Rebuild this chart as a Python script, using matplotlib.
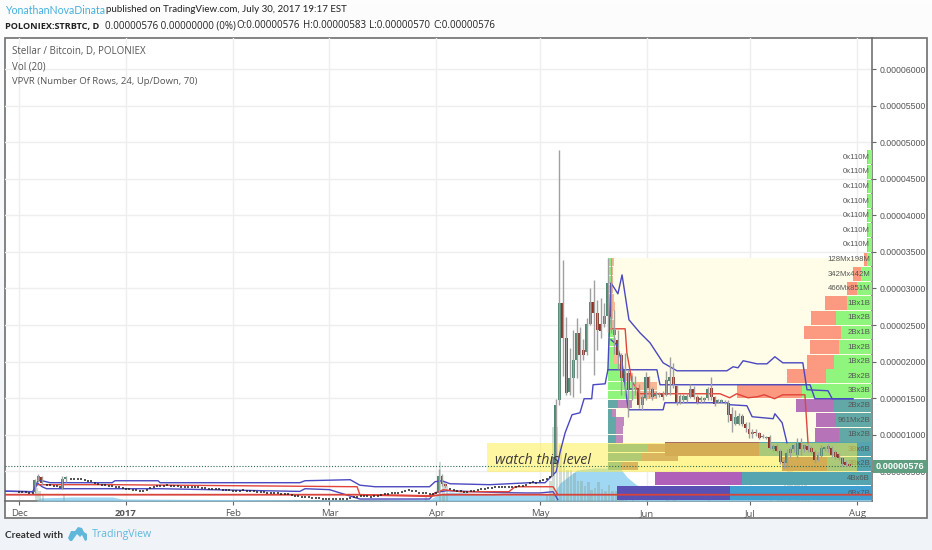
import numpy as np
import matplotlib
matplotlib.use("Agg")
import matplotlib.pyplot as plt
from matplotlib.collections import LineCollection
from matplotlib.patches import Polygon, Rectangle

# all prices in satoshi (1e-8 BTC), days counted from Dec 1 2016
W, H = 932, 550

month_days = [0, 31, 62, 90, 121, 151, 182, 212, 243]
month_labels = ["Dec", "2017", "Feb", "Mar", "Apr", "May", "Jun", "Jul", "Aug"]
price_ticks = [500, 1000, 1500, 2000, 2500, 3000, 3500, 4000, 4500, 5000, 5500, 6000]
last_price = 576

candle_days = [5, 6, 7, 13, 14, 122, 123, 124] + list(range(155, 242))
candle_open = [215, 380, 420, 270, 390, 222, 430, 330,
               441, 620, 1479, 2804, 2326, 1588, 1780, 2025, 2394, 2160, 2135, 2517, 2818, 2667, 2517, 2517, 2626, 3077,
               2360, 2299, 2094, 1725, 1848, 1616, 1620, 1643, 1411, 1506, 1793, 1629, 1534, 1540, 1575, 1547, 1738, 1793,
               1670, 1452, 1470, 1470, 1520, 1620, 1520, 1480, 1480, 1506, 1640, 1510, 1450, 1450, 1440, 1438, 1288, 1151,
               1151, 1260, 1151, 1083, 1010, 1040, 1020, 970, 960, 974, 810, 851, 782, 632, 618, 755, 800, 728, 892, 810,
               850, 825, 769, 659, 714, 810, 800, 823, 760, 741, 687, 632, 600]
candle_high = [400, 460, 430, 440, 440, 530, 460, 340,
               700, 1493, 4894, 3391, 2613, 2189, 2435, 2599, 2476, 2312, 2599, 3009, 3118, 2845, 2872, 2804, 3419, 3419,
               2700, 2435, 2121, 2121, 1889, 1820, 1800, 1690, 1547, 1861, 1800, 1657, 1600, 1590, 1600, 1875, 2067, 1984,
               1680, 1560, 1560, 1570, 1700, 1670, 1545, 1530, 1520, 1660, 1790, 1530, 1490, 1490, 1470, 1470, 1383, 1342,
               1300, 1288, 1170, 1178, 1080, 1080, 1040, 1010, 990, 1000, 880, 870, 800, 660, 810, 830, 880, 960, 960, 880,
               870, 850, 790, 760, 860, 850, 870, 850, 790, 750, 700, 660, 620]
candle_low = [205, 350, 320, 260, 360, 190, 300, 270,
              430, 560, 1411, 1807, 1547, 1547, 1520, 1780, 1575, 2025, 2094, 2503, 1820, 2162, 2326, 2476, 2408, 2394,
              2100, 1900, 1547, 1547, 1247, 1479, 1540, 1370, 1342, 1479, 1506, 1479, 1500, 1510, 1480, 1534, 1547, 1643,
              1411, 1420, 1440, 1450, 1500, 1490, 1420, 1440, 1450, 1480, 1480, 1400, 1430, 1430, 1420, 1178, 1042, 1130,
              1130, 1120, 1040, 960, 950, 990, 940, 950, 940, 800, 780, 770, 600, 540, 550, 700, 760, 680, 720, 760,
              770, 750, 620, 640, 700, 780, 770, 700, 670, 660, 570, 570, 570]
candle_close = [380, 430, 340, 400, 420, 430, 330, 300,
                700, 1411, 2804, 2326, 1575, 1780, 2025, 2394, 2094, 2094, 2517, 2818, 2667, 2435, 2421, 2626, 3077, 2613,
                2435, 2094, 1780, 1889, 1616, 1640, 1640, 1411, 1520, 1793, 1643, 1520, 1575, 1570, 1520, 1752, 1793, 1684,
                1452, 1534, 1534, 1534, 1620, 1520, 1440, 1500, 1500, 1625, 1510, 1420, 1470, 1470, 1450, 1274, 1192, 1247,
                1260, 1151, 1096, 1015, 1040, 1020, 960, 990, 975, 823, 851, 782, 632, 610, 755, 800, 860, 892, 810, 860,
                790, 769, 659, 728, 823, 830, 850, 728, 700, 687, 605, 590, 576]

small_days = list(range(0, 5)) + list(range(8, 13)) + list(range(15, 122)) + list(range(125, 155))
small_price = [222, 222, 215, 210, 210,
               320, 310, 300, 295, 290,
               400, 395, 392, 390, 385, 375, 370,
               340, 330, 320, 310, 305, 295, 285, 280, 270, 265, 255, 245, 240, 235, 230, 250, 270, 285, 295,
               300, 305, 310, 305, 300, 295, 290, 290, 285, 280, 280, 285, 275, 270, 265, 265, 262, 255, 250,
               245, 240, 235, 235, 238, 240, 230, 225, 225, 220, 220, 215, 210, 210, 205, 200, 195, 190, 185,
               175, 170, 160, 155, 150, 145, 140, 135, 130, 128, 125, 122, 120, 118, 118, 120, 125, 130, 145,
               155, 160, 162, 158, 155, 160, 170, 175, 185, 195, 200, 205, 210, 215, 225, 240, 235, 225, 210, 205, 200, 190, 185, 200,
               260, 245, 235, 225, 222, 222, 225, 230, 240, 255, 262, 270, 278, 285, 290, 290, 288, 280, 285, 290, 295, 300, 320, 335, 350, 345, 370, 385, 400, 420]

# channel lines
blue_a_days = [-4, 4, 5.5, 6.7, 9, 27, 27.8, 40.3, 40.9, 81.4, 82.9, 96, 98.8, 103.2, 119, 120.6, 122.6, 124.9, 136.5, 148, 152.5,
               155.7, 156.8, 158.3, 160.3, 162.6, 163.8, 166, 166.4, 169.9, 170.7, 171.6, 173.6, 174.8, 176.8, 180, 182.9, 186.7,
               190.7, 205.2, 207, 208.4, 209.9, 211.3, 213.9, 216.8, 219.1, 221.4, 227.2, 228.4, 234.5, 235.7, 241.7]
blue_a_price = [229, 222, 372, 372, 345, 345, 372, 372, 345, 345, 372, 386, 311, 290, 290, 359, 372, 331, 318, 345, 345,
                495, 755, 1028, 1274, 1301, 1493, 1493, 1684, 1697, 1889, 3077, 2927, 3186, 2572, 2394, 2258, 1984,
                1875, 1875, 1930, 1916, 2012, 1998, 1970, 1970, 2067, 1984, 1984, 1616, 1602, 1493, 1493]
blue_b_days = [170.7, 184.9, 185.8, 229.3, 230.7, 241.7]
blue_b_price = [1889, 1889, 1684, 1684, 1493, 1493]
blue_c_days = [171.6, 173.3, 174.8, 176.5, 176.8, 186.7, 187.2, 205.2, 206, 211, 212.5, 218.6, 219.1, 221.2, 222.6]
blue_c_price = [2299, 2230, 1984, 1383, 1342, 1342, 1438, 1438, 1411, 1397, 1247, 1220, 1288, 1165, 892]
blue_d_days = [-4, 4, 5.5, 6.7, 8, 41, 81.4, 82.9, 90, 98.8, 119, 120.6, 124, 140, 147.2, 151, 154.8, 156.2]
blue_d_price = [229, 222, 335, 290, 263, 263, 226, 263, 250, 122, 122, 209, 236, 209, 205, 205, 222, 113]
red_low_days = [-4, 98, 119, 122.5, 247]
red_low_price = [181, 181, 160, 181, 181]
red_up_days = [5.5, 27, 98, 98.8, 119, 123, 128, 142, 143.8, 154.8, 156.2]
red_up_price = [318, 318, 290, 181, 168, 250, 222, 222, 290, 290, 181]
red_post_days = [171.6, 175.7, 176.2, 177.7, 180, 203.2, 206, 208, 211.3, 214, 216, 219, 221.4, 227.8, 228.7]
red_post_price = [2449, 2449, 2121, 1725, 1561, 1561, 1506, 1561, 1506, 1520, 1547, 1493, 1547, 1547, 892]

# volume, millions
area_days = [-4, 5, 6, 15, 27, 30, 60, 100, 119, 122, 125, 140, 150, 155, 156.8, 161.7, 166.4, 174.2, 176.2, 179, 182.9, 190, 210, 225, 240, 247]
area_vol = [0, 0, 30, 40, 40, 20, 15, 10, 15, 70, 90, 60, 60, 70, 180, 310, 330, 330, 240, 160, 130, 110, 80, 70, 40, 40]
vol_days = [5, 6, 7, 13, 118, 122, 123, 124, 153, 154, 155, 156, 157, 158, 159, 160, 161, 162, 163, 164, 165, 166, 167, 168, 169, 170, 171, 172,
            173, 174, 175, 176, 178, 182, 188, 190, 200, 218, 220, 221, 222, 223, 224, 225, 226, 227, 228, 229]
vol_bars = [130, 100, 70, 60, 60, 390, 200, 150, 60, 200, 740, 740, 560, 400, 310, 310, 280, 200, 200, 150, 190, 110, 130, 190, 120, 100, 160, 100,
            100, 70, 90, 80, 80, 100, 90, 60, 60, 60, 90, 140, 230, 310, 340, 290, 180, 230, 240, 100]

# right anchored profile, top row first
vp_up = [4, 4, 4, 4, 4, 4, 4, 5, 11, 15, 25, 36, 31, 33, 38, 46, 70, 38, 36, 33, 113, 45, 130, 142]
vp_down = [1, 1, 1, 1, 1, 1, 1, 3, 8, 10, 22, 25, 37, 29, 27, 39, 65, 38, 20, 24, 94, 45, 87, 113]
vp_labels = ["0x110M"] * 7 + ["128Mx198M", "342Mx442M", "466Mx851M", "1Bx1B", "1Bx2B", "2Bx1B", "1Bx2B", "1Bx2B", "2Bx2B", "3Bx3B",
                              "2Bx2B", "961Mx2B", "1Bx2B", "3Bx6B", "3Bx2B", "4Bx6B", "6Bx7B"]
# fixed range profile from the May top
fr_up = [3, 3, 3, 3, 3, 3, 3, 3, 5, 6, 8, 5, 12, 15, 27, 27, 10, 4, 8, 8, 8, 40, 33, 14]
fr_down = [3, 2, 2, 2, 3, 4, 2, 3, 2, 2, 2, 5, 2, 10, 22, 22, 14, 4, 8, 7, 7, 32, 37, 16]


def fx(px):
    return px / W


def fy(py):
    return 1 - py / H


fig = plt.figure(figsize=(W / 100, H / 100), dpi=100)
plt.rcParams["font.family"] = ["Open Sans", "DejaVu Sans"]

# page background
bg = fig.add_axes([0, 0, 1, 1], zorder=-2)
bg.imshow(np.linspace(0, 1, 100).reshape(-1, 1), aspect="auto", cmap=matplotlib.colors.LinearSegmentedColormap.from_list("p", ["#fdfdfe", "#f0f3f7"]))
bg.axis("off")
fig.add_artist(Rectangle((fx(5), fy(518)), fx(922), 480 / H, transform=fig.transFigure, fc="white", ec="#7a7a7a", lw=1.3, zorder=-1))

rect = [fx(5), fy(501), fx(867), 463 / H]
xlim = (-4.06, 247.25)
ylim = (95, 6424)


def layer(z):
    a = fig.add_axes(rect, zorder=z)
    a.patch.set_visible(False)
    a.set_xlim(*xlim)
    a.set_ylim(*ylim)
    a.axis("off")
    return a


# main axes, grid and scales
ax = fig.add_axes(rect, zorder=1)
ax.patch.set_visible(False)
ax.set_xlim(*xlim)
ax.set_ylim(*ylim)
ax.set_xticks(month_days)
ax.set_xticklabels(month_labels, fontsize=6.8, color="#555555")
ax.get_xticklabels()[1].set_fontweight("bold")
ax.yaxis.tick_right()
ax.set_yticks(price_ticks)
ax.set_yticklabels(["%.8f" % (p * 1e-8) for p in price_ticks], fontsize=6.3, color="#555555", family="Liberation Sans")
ax.tick_params(axis="both", length=3, width=0.8, color="#666666", pad=2.5)
ax.grid(True, color="#eeeeee", lw=1)
ax.set_axisbelow(True)
for side in ["top", "left"]:
    ax.spines[side].set_visible(False)
for side in ["right", "bottom"]:
    ax.spines[side].set_color("#666666")
    ax.spines[side].set_linewidth(1.1)
ax.add_patch(Rectangle((170.7, 500), 80, 2919, fc="#fffde8", ec="none", zorder=1))

# volume
ax_vol = layer(2)
ax_vol.set_ylim(0, 4630)
ax_vol.fill_between(area_days, area_vol, 0, color="#8fd0f0", alpha=0.85, lw=0)
ax_vol.bar(vol_days, vol_bars, width=0.75, color="#7f9f8f", alpha=0.35)

# right anchored volume profile
ax_vp = layer(3)
ax_vp.set_xlim(867, 0)
row_prices = 4794 - 199.6 * np.arange(24)
up_colors = ["#8ff57c"] * 17 + ["#62a8a6"] * 3 + ["#55a5b0"] * 3 + ["#3f9fd0"]
down_colors = ["#fb9a80"] * 17 + ["#b673b8"] * 3 + ["#a86a66"] * 2 + ["#b060b8"] + ["#5a50b4"]
ax_vp.barh(row_prices, vp_up, height=187, color=up_colors, lw=0)
ax_vp.barh(row_prices, vp_down, left=vp_up, height=187, color=down_colors, lw=0)
for price, label in zip(row_prices, vp_labels):
    ax_vp.text(2, price, label, ha="right", va="center", fontsize=5.6, color="#555555", family="Liberation Sans")

# fixed range profile
ax_fr = layer(4)
ax_fr.set_xlim(-603, 264)
fr_prices = 3358 - 120.9 * np.arange(24)
fr_up_colors = ["#8ff57c"] * 16 + ["#62a8a6"] * 8
fr_down_colors = ["#fbab85"] * 16 + ["#b673b8"] * 5 + ["#a86a66"] * 3
ax_fr.barh(fr_prices, fr_up, height=112, color=fr_up_colors, lw=0)
ax_fr.barh(fr_prices, fr_down, left=fr_up, height=112, color=fr_down_colors, alpha=0.85, lw=0)

# price layer
top = layer(5)
top.add_patch(Rectangle((135.7, 495), 107.3, 397, fc="#ffee44", alpha=0.5, ec="none"))
top.text(138, 655, "watch this level", fontsize=10.3, style="italic", color="#3a3a3a", family="Open Sans", va="center", ha="left")
top.axhline(last_price, color="#2e6b4f", lw=0.8, ls=(0, (1, 1.6)))
top.plot(blue_a_days, blue_a_price, color="#4a48c0", lw=1)
top.plot(blue_b_days, blue_b_price, color="#4a48c0", lw=1)
top.plot(blue_c_days, blue_c_price, color="#4a48c0", lw=1)
top.plot(blue_d_days, blue_d_price, color="#4a48c0", lw=1)
top.plot(red_low_days, red_low_price, color="#d8433a", lw=1.3)
top.plot(red_up_days, red_up_price, color="#e0443a", lw=1)
top.plot(red_post_days, red_post_price, color="#e0443a", lw=1)
top.plot(small_days, small_price, ls="", marker="_", ms=1.9, mew=1.1, color="#222222")

# bars sit a little before the day tick
bar_x = np.array(candle_days) - 0.4
wicks = [[(d, l), (d, h)] for d, l, h in zip(bar_x, candle_low, candle_high)]
top.add_collection(LineCollection(wicks, colors="#a0a0a0", linewidths=1))
bottoms = np.minimum(candle_open, candle_close)
heights = np.abs(np.array(candle_close) - np.array(candle_open))
body_colors = ["#4f8870" if c >= o else "#8e3325" for o, c in zip(candle_open, candle_close)]
top.bar(bar_x, heights, bottom=bottoms, width=0.85, color=body_colors, lw=0)

# current price label sits over the scale
fig.add_artist(Rectangle((fx(873), fy(473)), fx(54), 13 / H, transform=fig.transFigure, fc="#5f9e80", ec="none", zorder=10))
fig.text(fx(900), fy(466.3), "0.00000576", color="white", fontsize=6.6, fontweight="bold", ha="center", va="center",
         family="Liberation Sans", zorder=11)

# study titles
fig.text(fx(12), fy(52), "Stellar / Bitcoin, D, POLONIEX", fontsize=7, color="#555555", va="center", zorder=12)
fig.text(fx(12), fy(67), "Vol (20)", fontsize=7, color="#555555", va="center", zorder=12)
fig.text(fx(12), fy(82), "VPVR (Number Of Rows, 24, Up/Down, 70)", fontsize=6.8, color="#555555", va="center", zorder=12)

# header
fig.text(fx(5), fy(10), "YonathanNovaDinata", fontsize=7.6, color="#45b0dc", va="center", family="Lato")
fig.text(fx(106), fy(10), "published on TradingView.com, July 30, 2017 19:17 EST", fontsize=7.05, color="#222222", va="center", family="Lato")
fig.text(fx(5), fy(26), "POLONIEX:STRBTC, D", fontsize=6.6, fontweight="bold", color="#222222", va="center")
fig.text(fx(105), fy(26), "0.00000576 0.00000000 (0%)", fontsize=7, color="#222222", va="center")
fig.text(fx(236), fy(26), "O:0.00000576", fontsize=7, color="#222222", va="center")
fig.text(fx(303), fy(26), "H:0.00000583", fontsize=7, color="#222222", va="center")
fig.text(fx(369), fy(26), "L:0.00000570", fontsize=7, color="#222222", va="center")
fig.text(fx(433), fy(26), "C:0.00000576", fontsize=7, color="#222222", va="center")

# footer
fig.text(fx(5), fy(535), "Created with", fontsize=7.2, fontweight="bold", color="#333333", va="center", family="Lato")
fig.text(fx(92), fy(535), "TradingView", fontsize=7.6, color="#5fb8dc", va="center")
logo_back = [(68, 538), (71, 531), (75, 531), (78, 527), (82, 528), (84, 532), (87, 534), (87, 540), (85, 541), (70, 541)]
logo_front = [(72, 541), (77, 534), (80, 537), (82, 535), (85, 541)]
fig.add_artist(Polygon([(fx(a), fy(b)) for a, b in logo_back], transform=fig.transFigure, fc="#5fb8dc", ec="none", zorder=5))
fig.add_artist(Polygon([(fx(a), fy(b)) for a, b in logo_front], transform=fig.transFigure, fc="#eef3f7", ec="none", zorder=6))

fig.savefig("out.png", dpi=100)
